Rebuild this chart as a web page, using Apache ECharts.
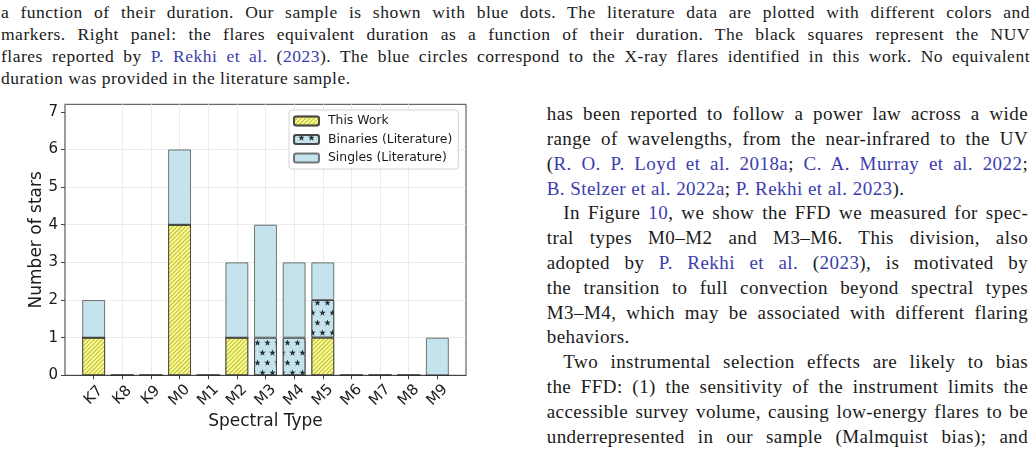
<!DOCTYPE html>
<html>
<head>
<meta charset="utf-8">
<script src="https://cdn.jsdelivr.net/npm/echarts@6/dist/echarts.min.js"></script>
<style>
  html, body { margin: 0; padding: 0; background: #fff; }
  body { width: 1035px; height: 455px; position: relative; overflow: hidden; }
  #chart { position: absolute; left: 0; top: 0; width: 535px; height: 455px; }
  .txt { position: absolute; font-family: "Liberation Serif", "DejaVu Serif", serif; color: #1a1a1a; }
  .txt div { text-align: justify; text-align-last: justify; white-space: nowrap; }
  .txt div.last { text-align-last: left; }
  .txt div.ind { padding-left: 16.6px; }
  .lk { color: #3c3cae; }
  #caption { left: 1px; top: 1.4px; width: 1029px; font-size: 17.5px; line-height: 22px; letter-spacing: 0.5px; }
  #body { left: 546.7px; top: 102.2px; width: 481.5px; font-size: 19px; line-height: 24.8px; letter-spacing: 0.45px; }
</style>
</head>
<body>
<div id="caption" class="txt">
  <div>a function of their duration. Our sample is shown with blue dots. The literature data are plotted with different colors and</div>
  <div>markers. Right panel: the flares equivalent duration as a function of their duration. The black squares represent the NUV</div>
  <div>flares reported by <span class="lk">P. Rekhi et al.</span> (<span class="lk">2023</span>). The blue circles correspond to the X-ray flares identified in this work. No equivalent</div>
  <div class="last">duration was provided in the literature sample.</div>
</div>
<div id="body" class="txt">
  <div>has been reported to follow a power law across a wide</div>
  <div>range of wavelengths, from the near-infrared to the UV</div>
  <div>(<span class="lk">R. O. P. Loyd et al. 2018a</span>; <span class="lk">C. A. Murray et al. 2022</span>;</div>
  <div class="last"><span class="lk">B. Stelzer et al. 2022a</span>; <span class="lk">P. Rekhi et al. 2023</span>).</div>
  <div class="ind">In Figure <span class="lk">10</span>, we show the FFD we measured for spec-</div>
  <div>tral types M0–M2 and M3–M6. This division, also</div>
  <div>adopted by <span class="lk">P. Rekhi et al.</span> (<span class="lk">2023</span>), is motivated by</div>
  <div>the transition to full convection beyond spectral types</div>
  <div>M3–M4, which may be associated with different flaring</div>
  <div class="last">behaviors.</div>
  <div class="ind">Two instrumental selection effects are likely to bias</div>
  <div>the FFD: (1) the sensitivity of the instrument limits the</div>
  <div>accessible survey volume, causing low-energy flares to be</div>
  <div>underrepresented in our sample (Malmquist bias); and</div>
</div>
<div id="chart"></div>
<script>
const categories = ['K7','K8','K9','M0','M1','M2','M3','M4','M5','M6','M7','M8','M9'];
const thisWork    = [1,0,0,4,0,1,0,0,1,0,0,0,0];
const binariesLit = [0,0,0,0,0,0,1,1,1,0,0,0,0];
const singlesLit  = [1,0,0,2,0,2,3,2,1,0,0,0,1];
const yTicks = [0,1,2,3,4,5,6,7];

// one empty slot on each side reproduces the plot's outer margin
const axisCats = [''].concat(categories, ['']);
function pad(arr) { return [null].concat(arr, [null]); }
const inner = idx => idx > 0 && idx < axisCats.length - 1;

const starPath = 'path://M50,0 L61.2,34.5 L97.6,34.5 L68.2,55.9 L79.4,90.5 L50,69.1 L20.6,90.5 L31.8,55.9 L2.4,34.5 L38.8,34.5 Z';
const edge = 'rgba(50,50,50,0.65)';
const font = 'DejaVu Sans';

const chart = echarts.init(document.getElementById('chart'), null, { renderer: 'canvas' });
chart.setOption({
  animation: false,
  grid: { left: 65, top: 104.3, width: 401, height: 271, show: true, borderColor: '#444', borderWidth: 1, outerBoundsMode: 'none' },
  legend: {
    orient: 'vertical', left: 289, top: 110, itemWidth: 25, itemHeight: 9, itemGap: 4.5,
    padding: [4, 6, 4, 4], backgroundColor: 'rgba(255,255,255,0.85)', borderColor: '#d4d4d4', borderWidth: 1, borderRadius: 3,
    textStyle: { fontFamily: font, fontSize: 12.4, color: '#1a1a1a', lineHeight: 14, padding: [0, 0, 0, 4] },
    data: ['This Work', 'Binaries (Literature)', 'Singles (Literature)']
  },
  xAxis: {
    type: 'category', data: axisCats, boundaryGap: false,
    name: 'Spectral Type', nameLocation: 'middle', nameGap: 38, nameMoveOverlap: false,
    nameTextStyle: { fontFamily: font, fontSize: 17, color: '#1a1a1a' },
    axisLine: { show: true, onZero: false, lineStyle: { color: '#444', width: 1 } },
    axisTick: { show: true, length: 4, interval: inner, lineStyle: { color: '#444' } },
    axisLabel: { interval: inner, rotate: 45, align: 'center', verticalAlign: 'middle', margin: 20,
      fontFamily: font, fontSize: 15, color: '#1a1a1a' },
    splitLine: { show: true, interval: inner, showMinLine: false, showMaxLine: false, lineStyle: { color: '#ebebeb', width: 1 } }
  },
  yAxis: {
    type: 'value', min: 0, max: 7.2, interval: 1,
    name: 'Number of stars', nameLocation: 'middle', nameGap: 20, nameRotate: 90, nameMoveOverlap: false,
    nameTextStyle: { fontFamily: font, fontSize: 17, color: '#1a1a1a' },
    axisLine: { show: true, onZero: false, lineStyle: { color: '#9a9a9a', width: 1.5 } },
    axisTick: { show: true, length: 4, lineStyle: { color: '#444' }, customValues: yTicks },
    axisLabel: { customValues: yTicks, margin: 7, fontFamily: font, fontSize: 15, color: '#1a1a1a' },
    splitLine: { show: true, showMinLine: false, showMaxLine: false, lineStyle: { color: '#ebebeb', width: 1 } }
  },
  series: [
    {
      name: 'This Work', type: 'bar', stack: 'all', barWidth: '80%', data: pad(thisWork),
      itemStyle: { color: 'rgba(255,255,0,0.5)', borderColor: edge, borderWidth: 1,
        decal: { symbol: 'rect', symbolSize: 1, dashArrayX: [1, 0], dashArrayY: [1, 2], rotation: -Math.PI / 4, color: 'rgba(90,90,60,0.45)' } }
    },
    {
      name: 'Binaries (Literature)', type: 'bar', stack: 'all', barWidth: '80%', data: pad(binariesLit),
      itemStyle: { color: '#c5e3ec', borderColor: edge, borderWidth: 1,
        decal: { symbol: starPath, symbolSize: 1.35, dashArrayX: [[4.25, 4.25], [0, 4.25, 4.25, 0]], dashArrayY: [5, 4.5], color: '#263238' } }
    },
    {
      name: 'Singles (Literature)', type: 'bar', stack: 'all', barWidth: '80%', data: pad(singlesLit),
      itemStyle: { color: '#c5e3ec', borderColor: edge, borderWidth: 1 }
    }
  ]
});
</script>
</body>
</html>
